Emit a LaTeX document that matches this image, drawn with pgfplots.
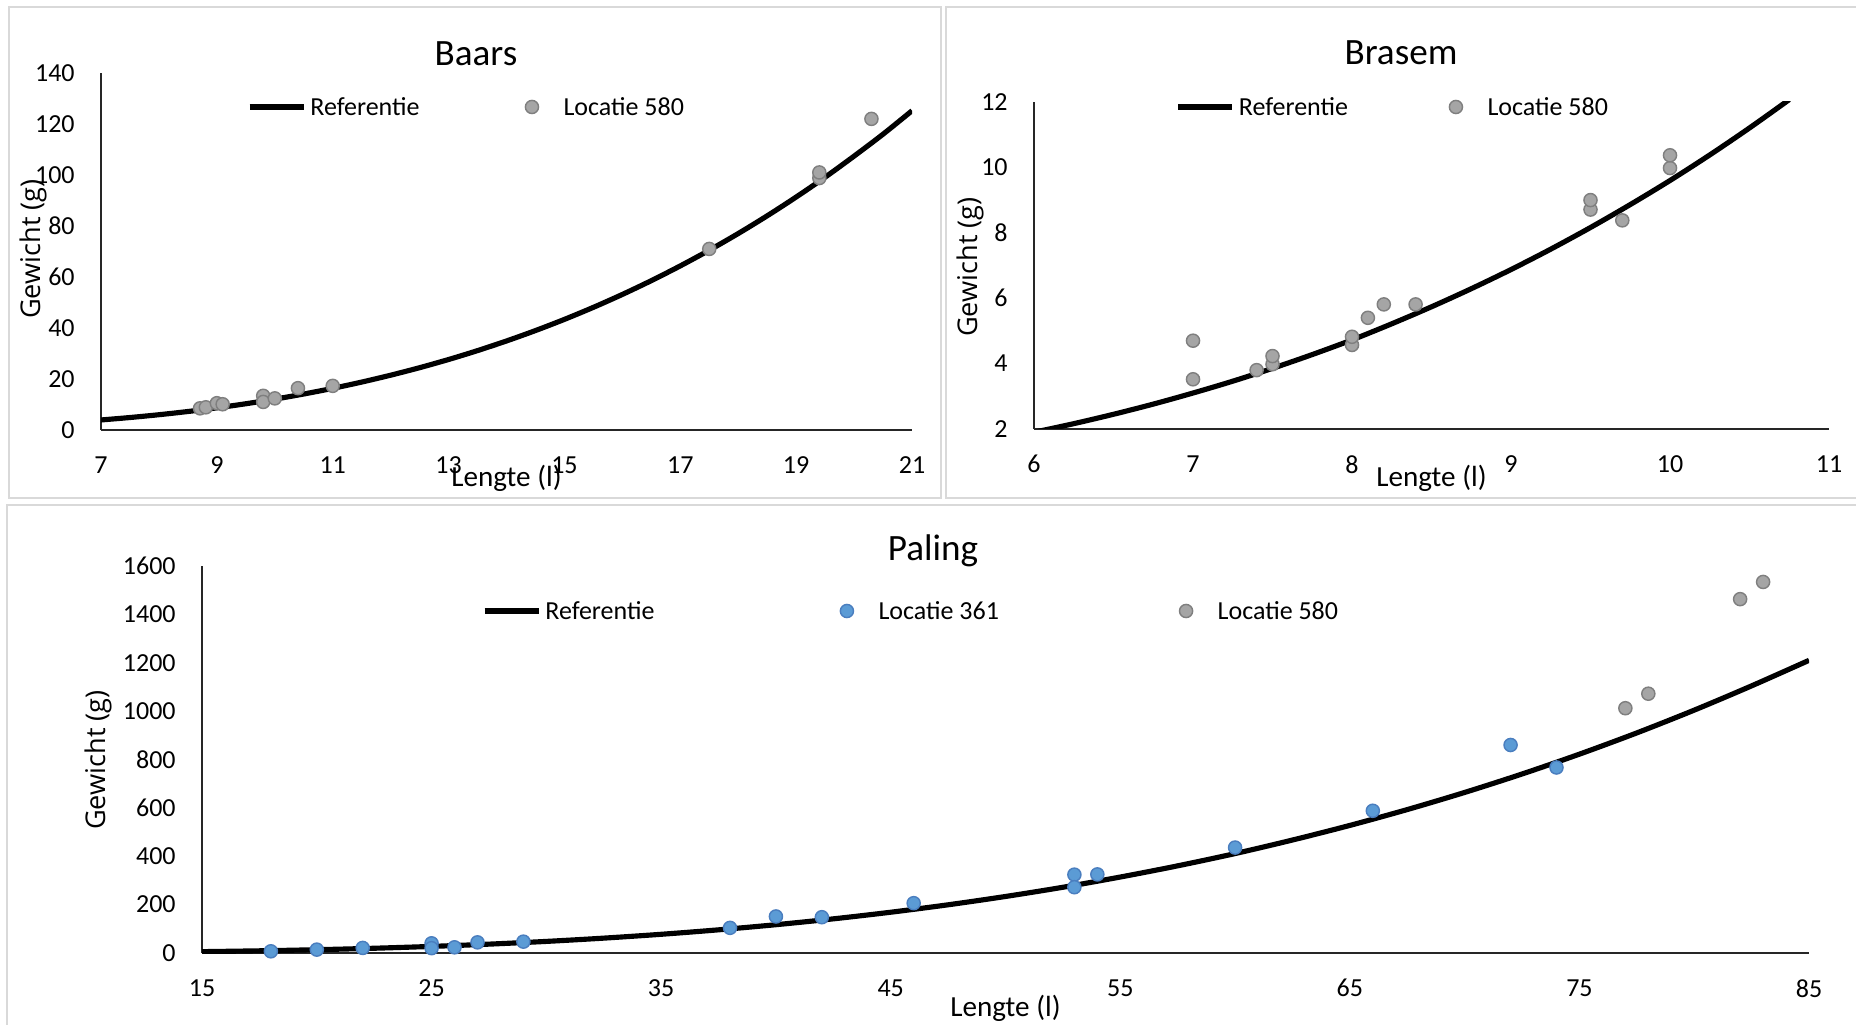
\documentclass[border=0pt]{standalone}
\usepackage{fontspec}
\setmainfont{Carlito}
\newfontfamily\labelfont{Open Sans}
\usepackage{pgfplots}
\pgfplotsset{compat=1.18}
% 1 px of the reference = 0.35pt
\definecolor{ptgray}{HTML}{A5A5A5}
\definecolor{ptgrayedge}{HTML}{7F7F7F}
\definecolor{ptblue}{HTML}{5B9BD5}
\definecolor{ptblueedge}{HTML}{4A7EBF}
\definecolor{panel}{HTML}{D9D9D9}

\pgfplotsset{
  excel/.style={
    scale only axis, anchor=south west,
    axis lines=left, axis line style={-, black!85, line width=0.7pt},
    major tick length=0pt, minor tick length=0pt,
    tick label style={font=\fontsize{9.1}{11}\selectfont},
    /pgf/number format/assume math mode=true,
    /pgf/number format/1000 sep={},
    xticklabel style={yshift=-5.7pt},
    yticklabel style={xshift=-5.7pt},
    title style={font=\fontsize{13}{15}\selectfont, anchor=center},
    xlabel style={font=\fontsize{10.2}{12}\selectfont, anchor=center},
    ylabel style={font=\labelfont\fontsize{9.5}{11}\selectfont, anchor=center},
    legend style={draw=none, fill=none, inner sep=0pt, outer sep=0pt, anchor=west,
      font=\fontsize{9.1}{11}\selectfont, nodes={inner sep=0pt, text depth=0pt},
      column sep=0pt, /tikz/every odd column/.append style={column sep=1.4pt}},
    legend columns=-1,
  },
  refcurve/.style={black, line width=1.8pt, no marks, smooth,
    legend image code/.code={\draw[black, line width=1.9pt] (0pt,0pt) -- (18.9pt,0pt);}},
  graypts/.style={only marks, mark=*, mark size=2.3pt,
    mark options={fill=ptgray, draw=ptgrayedge, line width=0.5pt},
    legend image code/.code={\path (0pt,0pt) (18.9pt,0pt); \draw[##1] plot coordinates {(9.45pt,0pt)};}},
  bluepts/.style={only marks, mark=*, mark size=2.3pt,
    mark options={fill=ptblue, draw=ptblueedge, line width=0.5pt},
    legend image code/.code={\path (0pt,0pt) (18.9pt,0pt); \draw[##1] plot coordinates {(9.45pt,0pt)};}},
}

\begin{document}
\begin{tikzpicture}
\useasboundingbox (0pt,0pt) rectangle (649.6pt,358.4pt);
\fill[white] (0pt,0pt) rectangle (649.6pt,358.4pt);
\draw[panel, line width=0.6pt] (3.15pt,184.1pt) rectangle (329.35pt,355.95pt);
\draw[panel, line width=0.6pt] (331.1pt,184.1pt) rectangle (654.5pt,355.95pt);
\draw[panel, line width=0.6pt] (2.45pt,-3.5pt) rectangle (654.5pt,181.65pt);

% Baars
\begin{axis}[excel, at={(35.35pt,207.9pt)}, width=283.85pt, height=124.95pt,
  xmin=7, xmax=21, xtick={7,9,...,21}, ymin=0, ymax=140, ytick={0,20,...,140},
  title={Baars}, title style={at={(axis description cs:0.4624,1.006)}},
  xlabel={Lengte (l)}, xlabel style={at={(axis description cs:0.5,-0.1345)}},
  ylabel={Gewicht (g)}, ylabel style={at={(axis description cs:-0.0838,0.507)}},
  legend style={at={(axis description cs:0.180,0.9048)}}]
\addplot[refcurve] coordinates {(7,3.93) (7.5,4.89) (8,5.99) (8.5,7.25) (9,8.68) (9.5,10.29) (10,12.10) (10.5,14.11) (11,16.33) (11.5,18.79) (12,21.49) (12.5,24.43) (13,27.64) (13.5,31.13) (14,34.91) (14.5,38.99) (15,43.38) (15.5,48.10) (16,53.16) (16.5,58.57) (17,64.35) (17.5,70.50) (18,77.04) (18.5,83.99) (19,91.35) (19.5,99.13) (20,107.4) (20.5,116.0) (21,125.2)};
\addlegendentry{\makebox[67.9pt][l]{Referentie}}
\addplot[graypts] coordinates {(8.71,8.5) (8.81,8.9) (9.0,10.5) (9.1,10.1) (9.8,13.4) (9.8,11.0) (10.0,12.4) (10.4,16.4) (11.0,17.3) (17.5,71.0) (19.4,98.8) (19.4,101) (20.3,122)};
\addlegendentry{Locatie 580}
\end{axis}

% Brasem
\begin{axis}[excel, at={(361.9pt,208.25pt)}, width=278.25pt, height=114.45pt,
  xmin=6, xmax=11, xtick={6,...,11}, ymin=2, ymax=12, ytick={2,4,...,12},
  title={Brasem}, title style={at={(axis description cs:0.4616,1.097)}},
  xlabel={Lengte (l)}, xlabel style={at={(axis description cs:0.5,-0.150)}},
  ylabel={Gewicht (g)}, ylabel style={at={(axis description cs:-0.0805,0.495)}},
  legend style={at={(axis description cs:0.178,0.9847)}}]
\addplot[refcurve] coordinates {(6,1.901) (6.25,2.163) (6.5,2.450) (6.75,2.761) (7,3.100) (7.25,3.462) (7.5,3.855) (7.75,4.276) (8,4.725) (8.25,5.217) (8.5,5.737) (8.75,6.290) (9,6.876) (9.25,7.500) (9.5,8.162) (9.75,8.863) (10,9.599) (10.25,10.381) (10.5,11.206) (10.75,12.073)};
\addlegendentry{\makebox[66.3pt][l]{Referentie}}
\addplot[graypts] coordinates {(7,4.7) (7,3.52) (7.4,3.8) (7.5,3.98) (7.5,4.23) (8,4.57) (8,4.82) (8.1,5.4) (8.2,5.81) (8.4,5.81) (9.5,8.71) (9.5,9.0) (9.7,8.38) (10,9.98) (10,10.37)};
\addlegendentry{Locatie 580}
\end{axis}

% Paling
\begin{axis}[excel, at={(70.7pt,24.85pt)}, width=562.45pt, height=135.45pt,
  xmin=15, xmax=85, xtick={15,25,...,85}, ymin=0, ymax=1600, ytick={0,200,...,1600},
  title={Paling}, title style={at={(axis description cs:0.4549,0.996)}},
  xlabel={Lengte (l)}, xlabel style={at={(axis description cs:0.5,-0.142)}},
  ylabel={Gewicht (g)}, ylabel style={at={(axis description cs:-0.0647,0.4987)}},
  legend style={at={(axis description cs:0.1742,0.8837)}}]
\addplot[refcurve] coordinates {(15,5.59) (17.5,9.02) (20,13.64) (22.5,19.66) (25,27.26) (27.5,36.62) (30,47.96) (32.5,61.47) (35,77.35) (37.5,95.8) (40,117.0) (42.5,141.2) (45,168.6) (47.5,199.3) (50,233.7) (52.5,271.8) (55,314.1) (57.5,360.4) (60,411.1) (62.5,467.1) (65,527.5) (67.5,593.0) (70,663.8) (72.5,740.1) (75,822.1) (77.5,910.0) (80,1004.1) (82.5,1104.5) (85,1210)};
\addlegendentry{\makebox[95.9pt][l]{Referentie}}
\addplot[bluepts] coordinates {(18,7) (20,14) (22,21) (25,40) (25,20) (26,23.5) (27,44) (29,47) (38,104) (40,151) (42,148) (46,206) (53,324) (53,272) (54,325) (60,436) (66,588) (72,860) (74,767)};
\addlegendentry{\makebox[98.0pt][l]{Locatie 361}}
\addplot[graypts] coordinates {(77,1012) (78,1072) (82,1463) (83,1534)};
\addlegendentry{Locatie 580}
\end{axis}
\end{tikzpicture}
\end{document}
